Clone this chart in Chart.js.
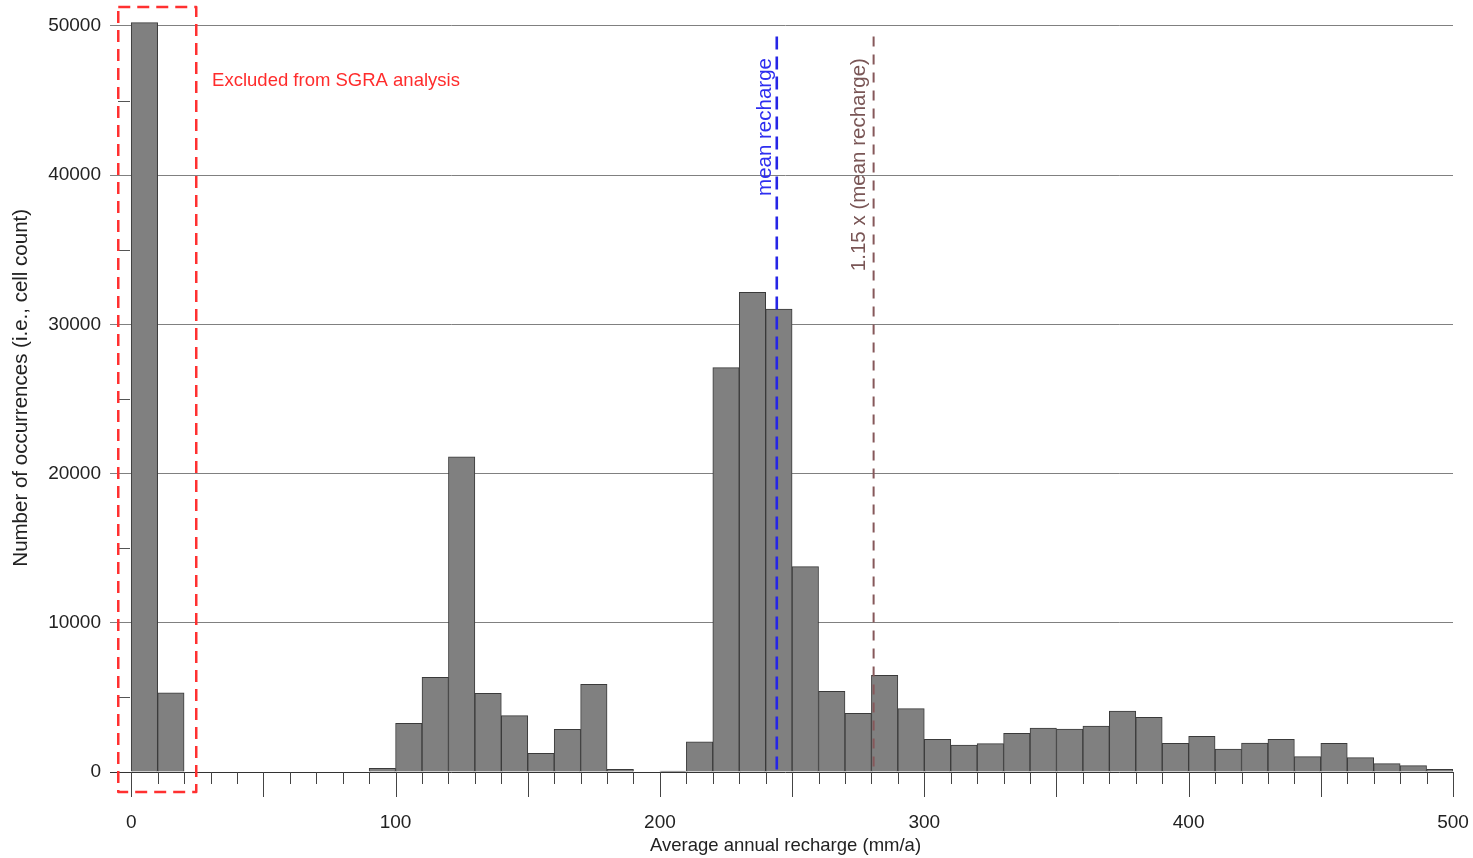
<!DOCTYPE html>
<html>
<head>
<meta charset="utf-8">
<script src="https://cdn.jsdelivr.net/npm/chart.js@4.4.1/dist/chart.umd.min.js"></script>
<style>
  html, body { margin: 0; padding: 0; background: #fff; }
  #wrap { width: 1473px; height: 858px; }
</style>
</head>
<body>
<div id="wrap"><canvas id="histChart" width="1473" height="858"></canvas></div>
<script>
// ------------------------
// Data (bins are 10 mm/a wide)
// ------------------------

const binStarts = [
    0, 10, 20, 30, 40, 50, 60, 70, 80, 90,
    100, 110, 120, 130, 140, 150, 160, 170, 180, 190,
    200, 210, 220, 230, 240, 250, 260, 270, 280, 290,
    300, 310, 320, 330, 340, 350, 360, 370, 380, 390,
    400, 410, 420, 430, 440, 450, 460, 470, 480, 490
];

const cellCounts = [
    50220, 5300, 0, 0, 0, 0, 0, 0, 0, 250,
    3260, 6350, 21130, 5270, 3780, 1250, 2860, 5880, 180, 0,
    60, 2030, 27100, 32150, 31030, 13760, 5410, 3930, 6480, 4250,
    2190, 1810, 1900, 2590, 2950, 2880, 3080, 4090, 3660, 1920,
    2390, 1540, 1940, 2190, 1030, 1920, 960, 560, 425, 180
];

const xTickValues = [0, 100, 200, 300, 400, 500];
const yTickValues = [0, 10000, 20000, 30000, 40000, 50000];
const yMinorTicks = [5000, 15000, 25000, 35000, 45000];

const binWidth = 10;
const meanRecharge = 244.2;
const thresholdFactor = 1.15;

const FONT = "'Liberation Sans', Arial, sans-serif";

// ------------------------
// Annotations
// ------------------------

const refLines = [
    { value: meanRecharge, label: "mean recharge", color: "#2626e6", textColor: "#2e2ef0", width: 2.6, dash: [13, 7], textOffset: -11.5 },
    { value: meanRecharge * thresholdFactor, label: "1.15 x (mean recharge)", color: "#86585a", textColor: "#7a5656", width: 2, dash: [10, 8], textOffset: -14.5 }
];
const refLineTop = 49300;
const refLabelTop = 47850;

const excludedBox = { xMin: -4.9, xMax: 24.6, yMin: -1340, yMax: 51270 };
const excludedLabel = { x: 30.6, y: 46300, text: "Excluded from SGRA analysis" };

const overlayPlugin = {
    id: "overlay",
    afterDatasetsDraw(chart) {
        const { ctx, scales: { x, y } } = chart;
        const base = y.getPixelForValue(0);
        ctx.save();

        // minor y ticks point inward
        ctx.strokeStyle = "#555";
        ctx.lineWidth = 1;
        yMinorTicks.forEach(v => {
            const py = Math.round(y.getPixelForValue(v)) + 0.5;
            ctx.beginPath();
            ctx.moveTo(x.left, py);
            ctx.lineTo(x.left + 12, py);
            ctx.stroke();
        });

        // x ticks: long every 50, short every 10
        ctx.strokeStyle = "#444";
        for (let v = 0; v <= 500; v += 10) {
            const px = Math.round(x.getPixelForValue(v)) + 0.5;
            ctx.beginPath();
            ctx.moveTo(px, base);
            ctx.lineTo(px, base + (v % 50 === 0 ? 25 : 12));
            ctx.stroke();
        }

        // mean recharge lines
        refLines.forEach(line => {
            const px = x.getPixelForValue(line.value);
            ctx.strokeStyle = line.color;
            ctx.lineWidth = line.width;
            ctx.setLineDash(line.dash);
            ctx.beginPath();
            ctx.moveTo(px, y.getPixelForValue(refLineTop));
            ctx.lineTo(px, base);
            ctx.stroke();
            ctx.setLineDash([]);

            ctx.save();
            ctx.translate(px + line.textOffset, y.getPixelForValue(refLabelTop));
            ctx.rotate(-Math.PI / 2);
            ctx.font = "20.5px " + FONT;
            ctx.fillStyle = line.textColor;
            ctx.textAlign = "right";
            ctx.textBaseline = "middle";
            ctx.fillText(line.label, 0, 0);
            ctx.restore();
        });

        // excluded region
        ctx.strokeStyle = "#ff3030";
        ctx.lineWidth = 2.5;
        ctx.setLineDash([12, 7]);
        ctx.lineJoin = "round";
        const bx0 = x.getPixelForValue(excludedBox.xMin);
        const bx1 = x.getPixelForValue(excludedBox.xMax);
        const by0 = y.getPixelForValue(excludedBox.yMax);
        const by1 = y.getPixelForValue(excludedBox.yMin);
        ctx.strokeRect(bx0, by0, bx1 - bx0, by1 - by0);
        ctx.setLineDash([]);

        ctx.font = "18.5px " + FONT;
        ctx.fillStyle = "#ff2c2c";
        ctx.textAlign = "left";
        ctx.textBaseline = "middle";
        ctx.fillText(excludedLabel.text, x.getPixelForValue(excludedLabel.x), y.getPixelForValue(excludedLabel.y));

        ctx.restore();
    }
};

// ------------------------
// Chart
// ------------------------

new Chart(document.getElementById("histChart"), {

    type: "bar",

    data: {
        datasets: [{
            data: binStarts.map((b, i) => ({ x: b + binWidth / 2, y: cellCounts[i] })),
            backgroundColor: "#808080",
            borderColor: "#3a3a3a",
            borderWidth: 1,
            barPercentage: 1,
            categoryPercentage: 1
        }]
    },

    options: {
        responsive: false,
        animation: false,
        layout: { padding: { left: 0, right: 20, top: 3.6, bottom: 0 } },
        plugins: {
            legend: { display: false },
            tooltip: { enabled: false }
        },
        scales: {
            x: {
                type: "linear",
                min: -5,
                max: 500,
                offset: false,
                afterBuildTicks: s => { s.ticks = xTickValues.map(v => ({ value: v })); },
                afterFit: s => { s.height = 86; s.paddingLeft = 0; s.paddingRight = 0; },
                grid: { display: false, drawTicks: false, offset: false },
                border: { display: false },
                ticks: {
                    autoSkip: false,
                    maxRotation: 0,
                    padding: 39,
                    color: "#222",
                    font: { family: FONT, size: 19 },
                    callback: v => String(v)
                },
                title: {
                    display: true,
                    text: "Average annual recharge (mm/a)",
                    color: "#222",
                    font: { family: FONT, size: 18.5 },
                    padding: { top: 0, bottom: 1 }
                }
            },
            y: {
                min: 0,
                max: 51500,
                afterBuildTicks: s => { s.ticks = yTickValues.map(v => ({ value: v })); },
                afterFit: s => { s.width = 118; s.paddingTop = 0; s.paddingBottom = 0; },
                grid: {
                    color: c => (c.tick && c.tick.value === 0 ? "#333" : "#808080"),
                    lineWidth: 1,
                    tickLength: 8
                },
                border: { display: false },
                ticks: {
                    padding: 9,
                    color: "#222",
                    font: { family: FONT, size: 19 },
                    callback: v => String(v)
                },
                title: {
                    display: true,
                    text: "Number of occurrences (i.e., cell count)",
                    color: "#222",
                    font: { family: FONT, size: 20.5 },
                    padding: { top: 9, bottom: 0 }
                }
            }
        }
    },

    plugins: [overlayPlugin]

});
</script>
</body>
</html>
